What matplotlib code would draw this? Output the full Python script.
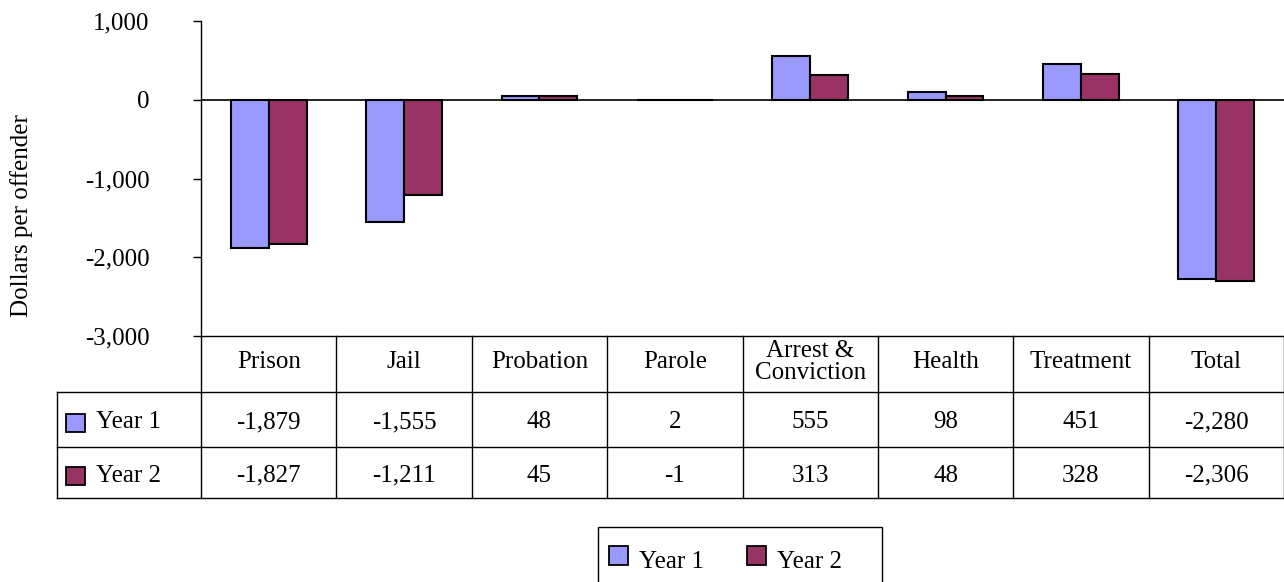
import matplotlib.pyplot as plt
import matplotlib.transforms as mtransforms
from matplotlib.patches import Rectangle
from matplotlib.lines import Line2D
import numpy as np

plt.rcParams['font.family'] = ['Liberation Serif', 'DejaVu Serif']

categories = ["Prison", "Jail", "Probation", "Parole", "Arrest &\nConviction",
              "Health", "Treatment", "Total"]
year1 = [-1879, -1555, 48, 2, 555, 98, 451, -2280]
year2 = [-1827, -1211, 45, -1, 313, 48, 328, -2306]
series_names = ["Year 1", "Year 2"]
colors = ["#9999FF", "#993366"]
yticks = [1000, 0, -1000, -2000, -3000]

W, H = 1284, 582
FS = 18


def fx(x):
    return x / W


def fy(y):
    return 1 - y / H


fig = plt.figure(figsize=(W / 100, H / 100), dpi=100)
ax = fig.add_axes([fx(201), fy(336), fx(1284 - 201), (336 - 21) / H])

x = np.arange(len(categories))
bw = 0.28
ax.bar(x - bw / 2, year1, bw, color=colors[0], edgecolor="black", linewidth=1.5, zorder=3)
ax.bar(x + bw / 2, year2, bw, color=colors[1], edgecolor="black", linewidth=1.5, zorder=3)

ax.set_xlim(-0.5, len(categories) - 0.5)
ax.set_ylim(-3000, 1000)
ax.axhline(0, color="black", linewidth=1.2, zorder=4)
ax.set_yticks(yticks)
ax.set_yticklabels([f"{v:,}" for v in yticks], fontsize=FS)
ax.tick_params(axis="y", direction="out", length=6, width=1, pad=31)
ax.set_xticks([])
for s in ["top", "right", "bottom"]:
    ax.spines[s].set_visible(False)
ax.spines["left"].set_linewidth(1)

fig.text(fx(22), fy(216), "Dollars per offender", rotation=90, ha="center",
         va="center", fontsize=FS)

# data table under the chart
tr = mtransforms.blended_transform_factory(ax.transData, fig.transFigure)
left_edge = -0.5 - 144 / (1083 / len(categories))
right_edge = len(categories) - 0.5
rows_y = [336, 392, 447, 498]

def hline(x0, x1, y):
    fig.add_artist(Line2D([x0, x1], [fy(y), fy(y)], transform=tr, color="black",
                          linewidth=1, clip_on=False))

def vline(xv, y0, y1):
    fig.add_artist(Line2D([xv, xv], [fy(y0), fy(y1)], transform=tr, color="black",
                          linewidth=1, clip_on=False))

hline(-0.5, right_edge, rows_y[0])
for y in rows_y[1:]:
    hline(left_edge, right_edge, y)
for i in range(len(categories) + 1):
    vline(i - 0.5, rows_y[0], rows_y[-1])
vline(left_edge, rows_y[1], rows_y[-1])

for i, c in enumerate(categories):
    fig.text(i, fy(362), c, transform=tr, ha="center",
             va="center", fontsize=FS, linespacing=1.0)
for r, vals in enumerate([year1, year2]):
    yc = fy((rows_y[r + 1] + rows_y[r + 2]) / 2 + 3)
    for i, v in enumerate(vals):
        fig.text(i, yc, f"{v:,}", transform=tr, ha="center", va="center", fontsize=FS)
    fig.add_artist(Rectangle((fx(66), yc - 9 / H), 19 / W, 18 / H,
                             transform=fig.transFigure, facecolor=colors[r],
                             edgecolor="black", linewidth=1.3))
    fig.text(fx(96), yc, series_names[r], ha="left", va="center", fontsize=FS)

# legend box
fig.add_artist(Rectangle((fx(598), fy(590)), fx(284), 63 / H,
                         transform=fig.transFigure, facecolor="none",
                         edgecolor="black", linewidth=1, clip_on=False))
for r, (sx, tx) in enumerate([(609, 639), (747, 777)]):
    fig.add_artist(Rectangle((fx(sx), fy(565)), 19 / W, 19 / H,
                             transform=fig.transFigure, facecolor=colors[r],
                             edgecolor="black", linewidth=1.3))
    fig.text(fx(tx), fy(562), series_names[r], ha="left", va="center", fontsize=FS)

fig.savefig("out.png", dpi=100)
